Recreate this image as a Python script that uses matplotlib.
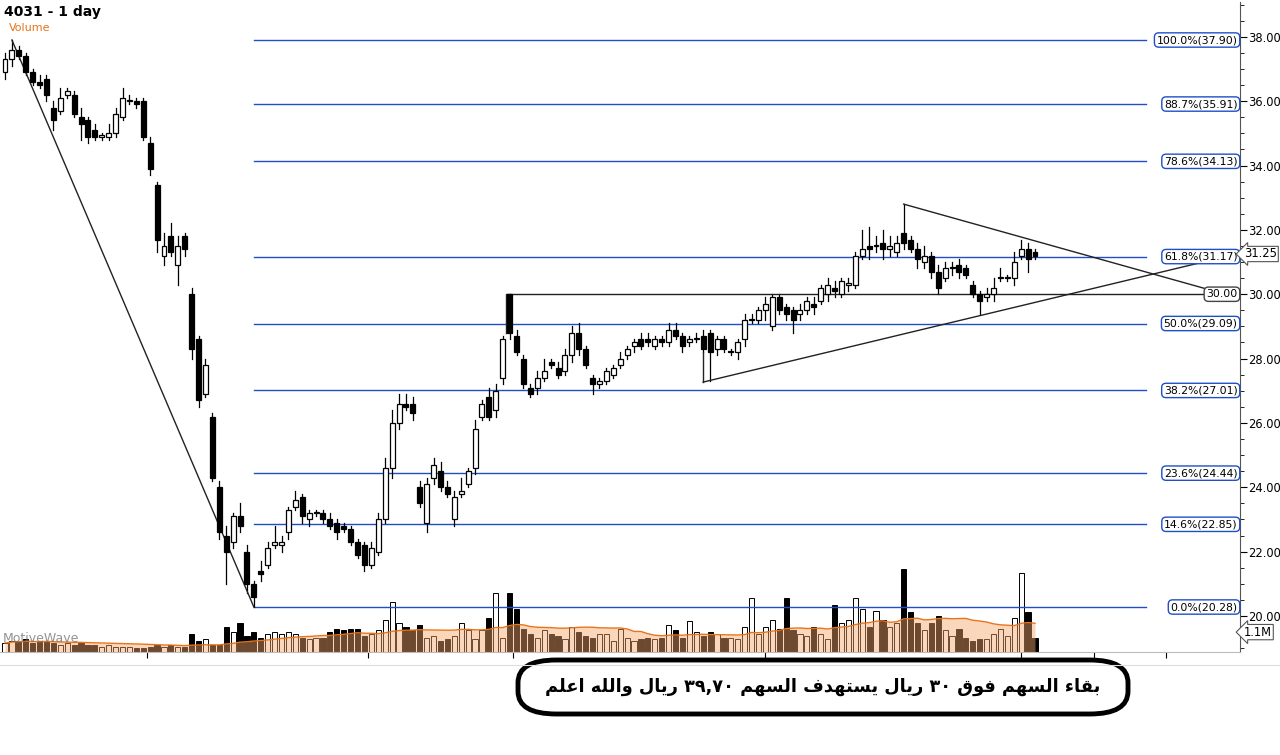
import matplotlib
matplotlib.use("Agg")
import matplotlib.pyplot as plt
from matplotlib.patches import FancyBboxPatch, Rectangle
import numpy as np
import pandas as pd

# ---- data ----
opens = [36.9, 37.3, 37.6, 37.4, 36.9, 36.6, 36.7, 35.8, 35.7, 36.2, 36.2, 35.5, 35.4, 35.1, 34.9, 34.9, 35.0, 35.5, 36.0, 36.0,
         36.0, 34.7, 33.4, 31.2, 31.8, 30.9, 31.8, 30.0, 28.6, 26.9, 26.2, 24.0, 22.5, 22.3, 23.1, 22.0, 21.0, 21.4, 21.6, 22.2,
         22.2, 22.6, 23.4, 23.7, 23.0, 23.2, 23.2, 23.0, 22.9, 22.8, 22.7, 22.3, 22.2, 21.6, 22.0, 23.0, 24.6, 26.0, 26.6, 26.6,
         24.0, 22.9, 24.3, 24.5, 24.0, 23.0, 23.8, 24.1, 24.6, 26.2, 26.8, 26.4, 27.4, 30.0, 28.7, 28.0, 27.1, 27.1, 27.4, 27.9,
         27.7, 27.6, 28.1, 28.8, 28.3, 27.4, 27.2, 27.3, 27.5, 27.8, 28.1, 28.4, 28.6, 28.6, 28.4, 28.6, 28.5, 28.9, 28.7, 28.5,
         28.6, 28.7, 28.8, 28.3, 28.6, 28.2, 28.2, 28.6, 29.2, 29.2, 29.5, 29.0, 29.9, 29.6, 29.5, 29.4, 29.5, 29.7, 29.8, 30.0,
         30.2, 30.0, 30.3, 30.3, 31.2, 31.5, 31.5, 31.6, 31.4, 31.3, 31.9, 31.7, 31.4, 31.0, 31.2, 30.7, 30.5, 30.8, 30.9, 30.8,
         30.3, 30.0, 29.9, 30.0, 30.5, 30.5, 30.5, 31.2, 31.4, 31.3]
closes = [37.3, 37.6, 37.4, 36.9, 36.6, 36.5, 36.2, 35.4, 36.1, 36.3, 35.6, 35.3, 34.9, 34.9, 34.9, 35.0, 35.6, 36.1, 36.0, 35.9,
          34.9, 33.9, 31.7, 31.5, 31.3, 31.5, 31.4, 28.3, 26.7, 27.8, 24.3, 22.6, 22.0, 23.1, 22.8, 21.0, 20.6, 21.3, 22.1, 22.3,
          22.3, 23.3, 23.6, 23.1, 23.2, 23.2, 23.0, 22.8, 22.6, 22.7, 22.3, 21.9, 21.6, 22.1, 23.0, 24.6, 26.0, 26.6, 26.5, 26.3,
          23.5, 24.1, 24.7, 24.0, 23.8, 23.7, 23.9, 24.5, 25.8, 26.6, 26.2, 27.0, 28.6, 28.8, 28.2, 27.2, 26.9, 27.4, 27.6, 27.8,
          27.5, 28.1, 28.8, 28.3, 27.8, 27.2, 27.3, 27.6, 27.7, 28.0, 28.3, 28.5, 28.4, 28.5, 28.6, 28.5, 28.9, 28.7, 28.4, 28.6,
          28.6, 28.3, 28.2, 28.6, 28.3, 28.2, 28.5, 29.2, 29.2, 29.5, 29.7, 29.9, 29.5, 29.4, 29.2, 29.5, 29.8, 29.6, 30.2, 30.3,
          30.1, 30.4, 30.3, 31.2, 31.4, 31.4, 31.5, 31.4, 31.5, 31.6, 31.6, 31.4, 31.1, 31.2, 30.7, 30.2, 30.8, 30.8, 30.7, 30.6,
          30.0, 29.8, 30.0, 30.2, 30.5, 30.5, 31.0, 31.4, 31.1, 31.2]
upper_wick = [0.2, 0.3, 0.1, 0.1, 0.1, 0.2, 0.1, 0.2, 0.3, 0.1, 0.1, 0.3, 0.1, 0.2, 0.1, 0.3, 0.2, 0.3, 0.2, 0.1,
              0.1, 0.2, 0.1, 0.4, 0.4, 0.3, 0.1, 0.2, 0.1, 0.2, 0.1, 0.2, 0.3, 0.1, 0.4, 0.2, 0.1, 0.3, 0.2, 0.5,
              0.2, 0.1, 0.3, 0.1, 0.1, 0.1, 0.1, 0.2, 0.1, 0.1, 0.1, 0.1, 0.1, 0.2, 0.2, 0.3, 0.4, 0.3, 0.3, 0.2,
              0.2, 0.2, 0.2, 0.3, 0.2, 0.2, 0.4, 0.1, 0.3, 0.1, 0.3, 0.2, 0.1, 0.0, 0.2, 0.1, 0.1, 0.2, 0.4, 0.1,
              0.2, 0.2, 0.2, 0.3, 0.1, 0.1, 0.1, 0.1, 0.1, 0.2, 0.1, 0.1, 0.2, 0.2, 0.1, 0.1, 0.2, 0.2, 0.1, 0.1,
              0.2, 0.2, 0.1, 0.1, 0.1, 0.1, 0.1, 0.2, 0.2, 0.1, 0.2, 0.1, 0.1, 0.1, 0.1, 0.2, 0.1, 0.2, 0.1, 0.2,
              0.2, 0.1, 0.2, 0.1, 0.6, 0.6, 0.3, 0.4, 0.3, 0.2, 0.9, 0.1, 0.2, 0.3, 0.1, 0.2, 0.2, 0.2, 0.2, 0.1,
              0.1, 0.1, 0.2, 0.3, 0.3, 0.1, 0.3, 0.3, 0.2, 0.1]
lower_wick = [0.2, 0.2, 0.1, 0.1, 0.1, 0.1, 0.2, 0.3, 0.1, 0.1, 0.1, 0.5, 0.2, 0.1, 0.1, 0.1, 0.1, 0.1, 0.1, 0.1,
              0.1, 0.2, 0.4, 0.3, 0.1, 0.6, 0.2, 0.3, 0.2, 0.1, 0.1, 0.2, 1.0, 0.2, 0.2, 0.3, 0.32, 0.2, 0.1, 0.1,
              0.2, 0.2, 0.1, 0.2, 0.2, 0.1, 0.1, 0.1, 0.2, 0.1, 0.1, 0.1, 0.2, 0.1, 0.1, 0.1, 0.3, 0.2, 0.1, 0.2,
              0.1, 0.3, 0.2, 0.1, 0.1, 0.2, 0.1, 0.1, 0.2, 0.1, 0.1, 0.2, 0.2, 0.2, 0.1, 0.1, 0.1, 0.2, 0.1, 0.1,
              0.1, 0.1, 0.2, 0.2, 0.1, 0.3, 0.1, 0.1, 0.1, 0.1, 0.1, 0.2, 0.1, 0.1, 0.1, 0.1, 0.1, 0.1, 0.2, 0.1,
              0.1, 0.1, 0.9, 0.2, 0.1, 0.1, 0.2, 0.2, 0.1, 0.1, 0.3, 0.1, 0.1, 0.2, 0.4, 0.2, 0.1, 0.2, 0.1, 0.2,
              0.2, 0.1, 0.2, 0.1, 0.1, 0.3, 0.2, 0.3, 0.2, 0.1, 0.2, 0.1, 0.3, 0.2, 0.2, 0.2, 0.1, 0.2, 0.2, 0.1,
              0.1, 0.4, 0.1, 0.2, 0.1, 0.1, 0.2, 0.1, 0.4, 0.1]
volumes = [0.5, 0.6, 0.6, 0.7, 0.5, 0.6, 0.6, 0.5, 0.4, 0.5, 0.4, 0.5, 0.4, 0.4, 0.3, 0.4, 0.3, 0.3, 0.3, 0.2,
           0.2, 0.3, 0.4, 0.3, 0.4, 0.3, 0.3, 1.0, 0.6, 0.7, 0.4, 0.4, 1.4, 1.1, 1.6, 0.9, 1.1, 0.8, 1.0, 1.1,
           1.0, 1.1, 1.0, 0.8, 0.7, 0.8, 0.8, 1.1, 1.3, 1.2, 1.3, 1.3, 0.9, 1.0, 1.2, 1.8, 2.8, 1.6, 1.4, 1.2,
           1.5, 0.8, 0.9, 0.6, 0.7, 0.9, 1.6, 1.2, 0.7, 1.2, 1.9, 3.3, 0.8, 3.3, 2.4, 1.3, 1.0, 0.8, 1.2, 1.0,
           0.9, 0.7, 1.4, 1.1, 0.9, 0.8, 1.0, 1.0, 0.6, 1.3, 0.8, 0.6, 0.7, 0.8, 0.7, 0.8, 1.5, 1.2, 0.8, 1.7,
           1.1, 0.9, 1.1, 1.0, 0.8, 0.8, 0.7, 1.4, 3.0, 1.0, 1.4, 1.8, 1.3, 3.0, 1.2, 1.0, 0.9, 1.4, 1.0, 0.7,
           2.6, 1.6, 1.8, 3.0, 2.4, 1.4, 2.3, 1.8, 1.4, 1.6, 4.6, 2.2, 1.6, 1.2, 1.6, 2.0, 1.2, 0.9, 1.3, 0.8,
           0.6, 0.7, 0.7, 1.0, 1.3, 0.9, 1.9, 4.4, 2.2, 0.8]

fib_pct = [100.0, 88.7, 78.6, 61.8, 50.0, 38.2, 23.6, 14.6, 0.0]
fib_price = [37.90, 35.91, 34.13, 31.17, 29.09, 27.01, 24.44, 22.85, 20.28]
price_ticks = [20, 22, 24, 26, 28, 30, 32, 34, 36, 38]

# drawn lines: (index, price) endpoints
down_trend = [(1, 37.9), (36, 20.28)]
upper_tri = [(130, 32.8), (175.7, 30.05)]
lower_tri = [(101, 27.27), (180.5, 31.37)]
resist_start = 72.5
resist_level = 30.00
last_price = 31.25
vol_ma_label = "1.1M"

caption_words = ["\uFE91\uFED8\uFE8E\uFE80", "\uFE8D\uFEDF\uFEB4\uFEEC\uFEE2", "\uFED3\uFEEE\uFED5", "\u0663\u0660",
                 "\uFEAD\uFEF3\uFE8E\uFEDD", "\uFEF3\uFEB4\uFE98\uFEEC\uFEAA\uFED1", "\uFE8D\uFEDF\uFEB4\uFEEC\uFEE2",
                 "\u0663\u0669,\u0667\u0660", "\uFEAD\uFEF3\uFE8E\uFEDD", "\uFEED\uFE8D\uFEDF\uFEE0\uFEEA",
                 "\uFE8D\uFECB\uFEE0\uFEE2"]

# ---- layout ----
W, H = 1280, 755
fig = plt.figure(figsize=(W / 100, H / 100), dpi=100)
n = len(closes)
s = (1035 - 5) / (n - 1)           # pixels per candle
x_lo, x_hi = -5 / s, (1240 - 5) / s
ax = fig.add_axes([0, 1 - 652 / H, 1240 / W, 650 / H])
ax.set_xlim(x_lo, x_hi)
ymin, ymax = 37.9 - (652 - 40) / 32.18, 37.9 - (2 - 40) / 32.18
ax.set_ylim(ymin, ymax)

# volume overlay
vax = ax.twinx()
vax.set_ylim(0, 650 / 18)
vax.set_xlim(x_lo, x_hi)
vax.axis("off")
idx = np.arange(n)
up = np.array(closes) >= np.array(opens)
vax.bar(idx[up], np.array(volumes)[up], width=0.75, color="white", edgecolor="black", linewidth=0.7, zorder=1)
vax.bar(idx[~up], np.array(volumes)[~up], width=0.75, color="black", edgecolor="black", linewidth=0.7, zorder=1)
ma = pd.Series(volumes).rolling(20, min_periods=1).mean()
vax.fill_between(idx, 0, ma, color="#f4a56a", alpha=0.45, lw=0, zorder=2)
vax.plot(idx, ma, color="#e8741a", lw=1.0, zorder=3)

ax.set_zorder(vax.get_zorder() + 1)
ax.patch.set_visible(False)

# fib levels
for p, v in zip(fib_pct, fib_price):
    ax.plot([36, 165], [v, v], color="#1f4fc8", lw=1.0, zorder=2)
    ax.text(x_hi - 0.35, v, f"{p:.1f}%({v:.2f})", ha="right", va="center", fontsize=7.8,
            bbox=dict(boxstyle="round,pad=0.2,rounding_size=0.4", fc="white", ec="#1f4fc8", lw=1), zorder=5)

# candles
for i, (o, c, uw, lw_) in enumerate(zip(opens, closes, upper_wick, lower_wick)):
    top, bot = max(o, c), min(o, c)
    ax.plot([i, i], [bot - lw_, top + uw], color="black", lw=0.9, zorder=3)
    ax.add_patch(Rectangle((i - 0.36, bot), 0.72, max(top - bot, 0.04),
                           fc="white" if c >= o else "black", ec="black", lw=0.9, zorder=4))

# trend lines
for seg in (down_trend, upper_tri, lower_tri):
    ax.plot([seg[0][0], seg[1][0]], [seg[0][1], seg[1][1]], color="#222222", lw=1.0, zorder=3)
ax.plot([101, 101], [27.27, 28.2], color="#222222", lw=1.0, zorder=3)
ax.plot([resist_start, resist_start, x_hi], [28.8, resist_level, resist_level], color="#222222", lw=1.0, zorder=3)
ax.text(x_hi - 0.35, resist_level, f"{resist_level:.2f}", ha="right", va="center", fontsize=7.8,
        bbox=dict(boxstyle="round,pad=0.2,rounding_size=0.4", fc="white", ec="#444444", lw=1), zorder=5)

# right price axis
ax.yaxis.tick_right()
ax.set_yticks(price_ticks)
ax.set_yticklabels([f"{t:.2f}" for t in price_ticks], fontsize=8.3)
ax.set_yticks(np.arange(19.0, 39.01, 0.5), minor=True)
ax.tick_params(axis="y", which="major", length=5, pad=1)
ax.tick_params(axis="y", which="minor", length=3)
ax.set_xticks([20.5, 52.5, 73.5, 110, 147, 157.5, 168])
ax.set_xticklabels([])
ax.tick_params(axis="x", length=4)
for sp in ("top", "left"):
    ax.spines[sp].set_visible(False)
ax.spines["right"].set_color("#555555")
ax.spines["bottom"].set_color("#bbbbbb")

ax.text(x_hi + 0.6, last_price, f"{last_price:.2f}", ha="left", va="center", fontsize=8.3,
        bbox=dict(boxstyle="larrow,pad=0.1", fc="white", ec="#555555", lw=0.8), zorder=6, clip_on=False)
ax.text(x_hi + 0.6, 19.5, vol_ma_label, ha="left", va="center", fontsize=8.3,
        bbox=dict(boxstyle="larrow,pad=0.1", fc="white", ec="#555555", lw=0.8), zorder=6, clip_on=False)

# titles
fig.text(4 / W, 1 - 12 / H, "4031 - 1 day", fontsize=10, fontweight="bold", va="center")
fig.text(9 / W, 1 - 28 / H, "Volume", fontsize=8, color="#e8741a", va="center")
fig.text(3 / W, 1 - 639 / H, "MotiveWave", fontsize=9, color="#777777", va="center", alpha=0.8)
fig.add_artist(plt.Line2D([0, 1], [1 - 665 / H, 1 - 665 / H], color="#dddddd", lw=0.8))

# caption box
fig.patches.append(FancyBboxPatch((518 / W, 1 - 714 / H), 610 / W, 54 / H,
                                  boxstyle="round,pad=0,rounding_size=0.03", transform=fig.transFigure,
                                  fc="white", ec="black", lw=3.5))
visual = " ".join(w if w[0] in "\u0660\u0663" else w[::-1] for w in reversed(caption_words))
fig.text(823 / W, 1 - 687 / H, visual, fontsize=12.8, fontweight="bold", ha="center", va="center",
         family=["DejaVu Sans"])

fig.savefig("out.png", dpi=100)
